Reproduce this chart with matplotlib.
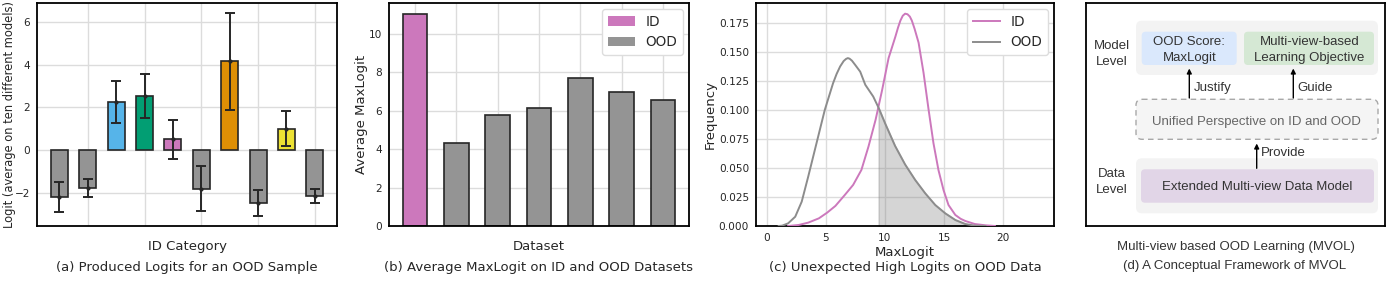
import numpy as np
import matplotlib
matplotlib.use("Agg")
import matplotlib.pyplot as plt
from matplotlib.patches import FancyBboxPatch, Patch

# ---------------- data ----------------
# (a) logits for an OOD sample over ten ID categories
logit_means = [-2.19, -1.80, 2.24, 2.54, 0.49, -1.82, 4.15, -2.50, 0.99, -2.16]
logit_errs = [0.70, 0.42, 0.97, 1.04, 0.90, 1.06, 2.28, 0.60, 0.82, 0.34]
logit_colors = ["#949494", "#949494", "#56B4E9", "#029E73", "#CC78BC",
                "#949494", "#DE8F05", "#949494", "#ECE133", "#949494"]

# (b) average MaxLogit per dataset (first = ID, rest = OOD)
dataset_maxlogit = [11.05, 4.33, 5.80, 6.15, 7.71, 6.98, 6.53]
dataset_kind = ["ID", "OOD", "OOD", "OOD", "OOD", "OOD", "OOD"]

# (c) MaxLogit density curves
id_x = [1.8, 2.7, 3.5, 4.4, 5.1, 5.8, 6.6, 7.3, 8.0, 8.6, 9.2, 9.75, 10.3,
        10.87, 11.1, 11.3, 11.5, 11.7, 11.9, 12.1, 12.27, 12.5, 12.84, 13.26,
        13.69, 14.1, 14.52, 14.95, 15.37, 15.95, 16.4, 16.8, 17.6, 18.5, 19.3]
id_y = [0.0, 0.0009, 0.0029, 0.0066, 0.0115, 0.0173, 0.0268, 0.0354, 0.0483,
        0.0685, 0.0915, 0.117, 0.1447, 0.163, 0.171, 0.177, 0.1812, 0.183,
        0.1825, 0.1805, 0.177, 0.170, 0.158, 0.132, 0.100, 0.0713, 0.0483,
        0.031, 0.0181, 0.0095, 0.0062, 0.0043, 0.0017, 0.0006, 0.0]
ood_x = [1.0, 1.3, 1.8, 2.4, 2.95, 3.5, 4.2, 4.9, 5.6, 5.9, 6.2, 6.5, 6.7,
         6.85, 7.0, 7.2, 7.5, 7.9, 8.33, 9.0, 9.45, 10.0, 10.85, 11.7, 12.55,
         13.4, 14.25, 15.1, 15.95, 16.8, 17.6, 18.5]
ood_y = [0.0, 0.0003, 0.0023, 0.008, 0.021, 0.0426, 0.0713, 0.100, 0.123,
         0.131, 0.1375, 0.1422, 0.1440, 0.1447, 0.1442, 0.1425, 0.1385,
         0.133, 0.1217, 0.1116, 0.102, 0.0886, 0.069, 0.053, 0.0397, 0.0282,
         0.0181, 0.0109, 0.0052, 0.0017, 0.0003, 0.0]
shade_from = 9.45

PINK = "#CC78BC"
GRAY = "#949494"
TXT = "#262626"

# ---------------- figure ----------------
W, H = 1390, 281
fig = plt.figure(figsize=(W / 100, H / 100), dpi=100)


def rect(l, t, r, b):
    return [l / W, 1 - b / H, (r - l) / W, (b - t) / H]


def ft(x, y, s, **kw):
    kw.setdefault("ha", "center")
    kw.setdefault("va", "center")
    kw.setdefault("color", TXT)
    return fig.text(x / W, 1 - y / H, s, **kw)


def style(ax):
    for s in ax.spines.values():
        s.set_color("black")
        s.set_linewidth(1.3)
    ax.grid(True, color="#dcdcdc", lw=1.0)
    ax.set_axisbelow(True)
    ax.tick_params(length=0, pad=5, labelsize=7.6, labelcolor=TXT)


# ---- (a) ----
axA = fig.add_axes(rect(37, 3, 337, 226))
style(axA)
xa = np.arange(len(logit_means))
axA.bar(xa, logit_means, width=0.6, color=logit_colors, edgecolor=TXT,
        linewidth=1.2, zorder=2)
axA.errorbar(xa, logit_means, yerr=logit_errs, fmt="o", ms=2, color=TXT,
             ecolor=TXT, elinewidth=1.4, capsize=3.6, capthick=1.4, zorder=3)
axA.set_xticks(xa[1::2])
axA.set_xticklabels([])
axA.set_xlim(-0.79, 9.78)
axA.set_ylim(-3.57, 6.89)
axA.set_yticks([-2, 0, 2, 4, 6])
ft(9.2, 114.5, "Logit (average on ten different models)", rotation=90, fontsize=8.3)
ft(187, 246.7, "ID Category", fontsize=9.5)
ft(187, 267, "(a) Produced Logits for an OOD Sample", fontsize=9.5)

# ---- (b) ----
axB = fig.add_axes(rect(389, 3, 689, 226))
style(axB)
xb = np.arange(len(dataset_maxlogit))
bcols = [PINK if k == "ID" else GRAY for k in dataset_kind]
axB.bar(xb, dataset_maxlogit, width=0.6, color=bcols, edgecolor=TXT,
        linewidth=1.2, zorder=2)
axB.set_xticks(xb)
axB.set_xticklabels([])
axB.set_xlim(-0.63, 6.63)
axB.set_ylim(0, 11.6)
axB.set_yticks([0, 2, 4, 6, 8, 10])
legB = axB.legend(handles=[Patch(facecolor=PINK, label="ID"),
                           Patch(facecolor=GRAY, label="OOD")],
                  loc="upper right", fontsize=9.8, frameon=True,
                  edgecolor="#dddddd", framealpha=1, borderaxespad=0.45)
for t in legB.get_texts():
    t.set_color(TXT)
ft(361.7, 114.5, "Average MaxLogit", rotation=90, fontsize=9.5)
ft(539, 246.7, "Dataset", fontsize=9.5)
ft(539, 267, "(b) Average MaxLogit on ID and OOD Datasets", fontsize=9.5)

# ---- (c) ----
axC = fig.add_axes(rect(756, 3, 1054, 226))
style(axC)
ox = np.array(ood_x)
oy = np.array(ood_y)
axC.fill_between(ox, 0, oy, where=ox >= shade_from, color="#808080",
                 alpha=0.33, lw=1, zorder=1)
axC.plot(id_x, id_y, color=PINK, lw=1.4, label="ID", zorder=3,
         solid_joinstyle="round")
axC.plot(ood_x, ood_y, color="#8c8c8c", lw=1.4, label="OOD", zorder=3,
         solid_joinstyle="round")
axC.set_xlim(-0.92, 24.3)
axC.set_ylim(0, 0.1922)
axC.set_xticks([0, 5, 10, 15, 20])
axC.set_yticks(np.arange(0, 0.176, 0.025))
axC.yaxis.set_major_formatter(matplotlib.ticker.FormatStrFormatter("%.3f"))
legC = axC.legend(loc="upper right", fontsize=9.8, frameon=True,
                  edgecolor="#dddddd", framealpha=1, borderaxespad=0.45)
for t in legC.get_texts():
    t.set_color(TXT)
ft(710.5, 114.5, "Frequency", rotation=90, fontsize=9.5)
ft(905, 252.3, "MaxLogit", fontsize=9.5)
ft(905, 267.5, "(c) Unexpected High Logits on OOD Data", fontsize=9.5)

# ---- (d) conceptual framework ----
axD = fig.add_axes(rect(1086, 3, 1385, 226))
axD.set_xlim(1086, 1385)
axD.set_ylim(226, 3)
axD.set_xticks([])
axD.set_yticks([])
for s in axD.spines.values():
    s.set_color("black")
    s.set_linewidth(1.3)

DF = dict(family=["Liberation Sans", "DejaVu Sans"], fontsize=9.5)
DC = "#333333"


def box(x0, y0, x1, y1, fc, ec="none", ls="-", r=5, lw=1.0, z=1):
    p = FancyBboxPatch((x0, y0), x1 - x0, y1 - y0,
                       boxstyle="round,pad=0,rounding_size=%g" % r,
                       fc=fc, ec=ec, ls=ls, lw=lw, zorder=z)
    axD.add_patch(p)


def dt(x, y, s, color=DC, ha="center"):
    axD.text(x, y, s, ha=ha, va="center", color=color, **DF)


def arrow(x, y0, y1):
    axD.annotate("", xy=(x, y1), xytext=(x, y0),
                 arrowprops=dict(arrowstyle="-|>", color="black", lw=1.0,
                                 mutation_scale=7, shrinkA=0, shrinkB=0),
                 zorder=4)


box(1136, 20.7, 1378, 75, "#f3f3f3", r=6)
box(1141.7, 31.7, 1236.7, 65, "#dae8fc", r=4, z=2)
box(1244, 31.7, 1374, 65, "#d5e8d4", r=4, z=2)
dt(1189.3, 41.7, "OOD Score:")
dt(1189.3, 57.5, "MaxLogit")
dt(1309.3, 41.7, "Multi-view-based")
dt(1309.3, 57.5, "Learning Objective")
dt(1111.7, 46, "Model")
dt(1111.7, 62.3, "Level")

arrow(1189.3, 98, 68.5)
arrow(1293.3, 98, 68.5)
dt(1193.5, 88.3, "Justify", ha="left")
dt(1297, 88.3, "Guide", ha="left")

box(1136, 99.3, 1378, 139.3, "#f5f5f5", ec="#a8a8a8", ls=(0, (4, 3)), r=6, lw=1.0)
dt(1256.5, 121.7, "Unified Perspective on ID and OOD", color="#666666")

arrow(1256.7, 168.3, 143.5)
dt(1261, 152.7, "Provide", ha="left")

box(1136, 158.3, 1378, 213.3, "#f3f3f3", r=6)
box(1141, 169.3, 1374, 202.7, "#e1d5e7", r=4, z=2)
dt(1257.5, 187, "Extended Multi-view Data Model")
dt(1111.7, 174, "Data")
dt(1111.7, 190.3, "Level")

ft(1236, 246.7, "Multi-view based OOD Learning (MVOL)", color=DC, **DF)
ft(1235, 265.5, "(d) A Conceptual Framework of MVOL", color=DC, **DF)

fig.savefig("out.png", dpi=100)
